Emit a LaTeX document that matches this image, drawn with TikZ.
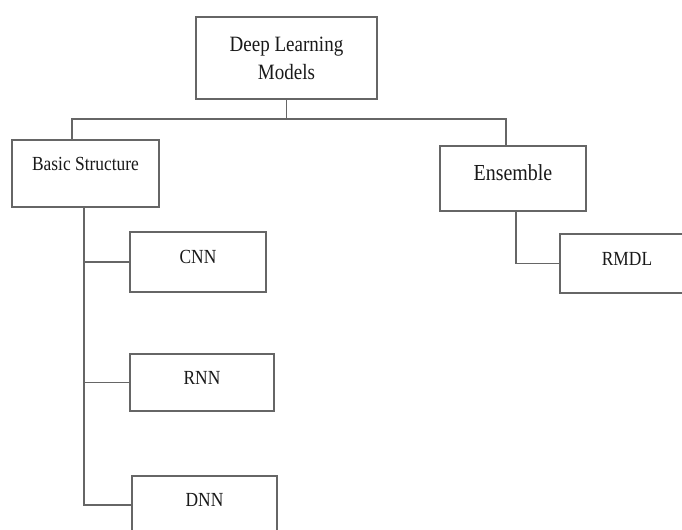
\documentclass[tikz,border=0pt]{standalone}
\usepackage{fontspec}
\setmainfont{Liberation Serif}[FakeStretch=0.87]
\usetikzlibrary{calc}

\begin{document}
\begin{tikzpicture}[x=0.75pt,y=-0.75pt,
    box/.style={draw=black!60,line width=1.2pt,rectangle,text=black!90,
        font=\fontsize{15}{17}\selectfont,text height=7pt,text depth=4.5pt},
    link/.style={draw=black!60,line width=1.2pt}]
    \useasboundingbox (0,0) rectangle (682,530);
    \clip (0,0) rectangle (682,530);
    % tree boxes
    \node[box,minimum width=135.75pt,minimum height=61.5pt,align=center,
        font=\fontsize{16.4}{21}\selectfont,text height=,text depth=] (dlm) at (286.5,58) {Deep Learning\\Models};
    \node[box,minimum width=110.25pt,minimum height=50.25pt,text height=3pt,text depth=8pt] (basic) at (85.5,173.5) {Basic Structure};
    \node[box,minimum width=109.5pt,minimum height=48.75pt,font=\fontsize{17.2}{19}\selectfont,
        text height=7.4pt,text depth=5pt] (ens) at (513,178.5) {Ensemble};
    \node[box,minimum width=102pt,minimum height=45pt] (cnn) at (198,262) {CNN};
    \node[box,minimum width=108pt,minimum height=42.75pt] (rnn) at (202,382.5) {RNN};
    \node[box,minimum width=108.75pt,minimum height=43.5pt] (dnn) at (204.5,505) {DNN};
    \node[box,minimum width=100.5pt,minimum height=44.25pt] (rmdl) at (627,263.5) {RMDL};
    % connectors
    \draw[link] (dlm.south) -- ++(0,19) coordinate (bus);
    \draw[link] ($(basic.north)+(-13.5,0)$) |- (bus) -| ($(ens.north)+(-7,0)$);
    \foreach \c in {cnn,rnn,dnn}
        \draw[link] ($(basic.south)+(-1.5,0)$) |- (\c.west);
    \draw[link] ($(ens.south)+(3,0)$) |- (rmdl.west);
\end{tikzpicture}
\end{document}
